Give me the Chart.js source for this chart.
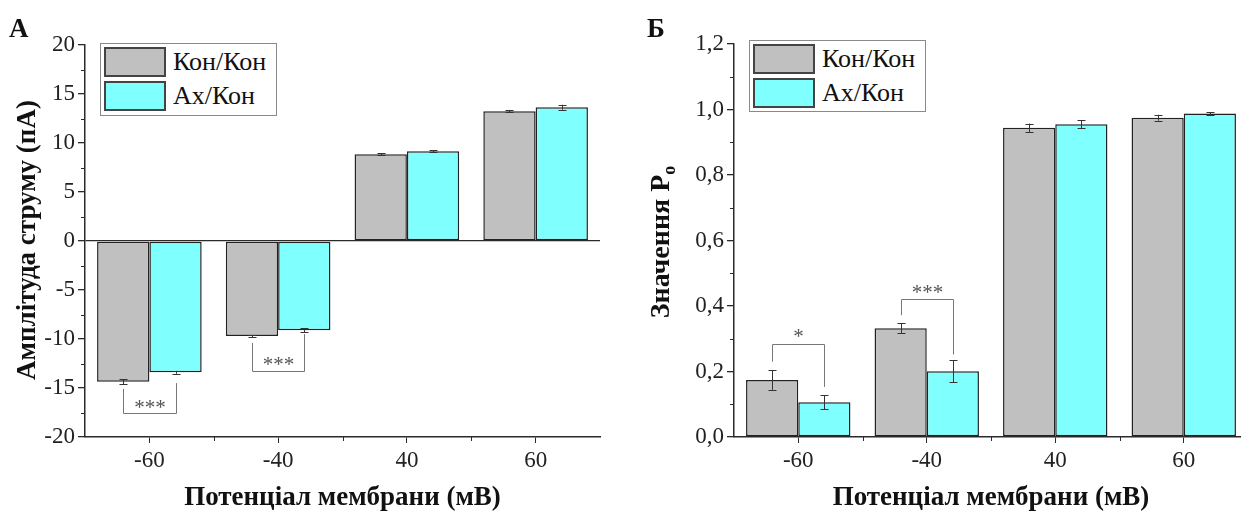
<!DOCTYPE html>
<html><head><meta charset="utf-8">
<script src="https://cdn.jsdelivr.net/npm/chart.js@4/dist/chart.umd.min.js"></script>
<style>
html,body{margin:0;padding:0;background:#fff}
#wrap{position:relative;width:1241px;height:512px;overflow:hidden;background:#fff;font-family:'Liberation Serif';color:#111}
canvas{position:absolute;top:0}
.lbl{position:absolute;font-weight:bold;white-space:nowrap;font-family:'Liberation Serif'}
.ytitle{position:absolute;font-weight:bold;white-space:nowrap;font-family:'Liberation Serif';transform:translate(-50%,-50%) rotate(-90deg)}
.leg{position:absolute;border:1px solid #8a8a8a;background:#fff;box-sizing:border-box}
.row{position:absolute;display:flex;align-items:center}
.sw{width:62px;height:30px;box-sizing:border-box;border:2px solid #444;margin-right:7px}
.row span{font-size:26px;line-height:30px;font-family:'Liberation Serif'}
</style></head>
<body><div id="wrap">
<canvas id="cA" width="620" height="512" style="left:0"></canvas>
<canvas id="cB" width="640" height="512" style="left:630px"></canvas>
<div class="lbl" style="left:9px;top:13px;font-size:27px">А</div>
<div class="lbl" style="left:647px;top:13px;font-size:27px">Б</div>
<div class="ytitle" style="left:26px;top:240px;font-size:27px">Амплітуда струму (пА)</div>
<div class="ytitle" style="left:662px;top:242px;font-size:28px">Значення P<sub style="font-size:18px">o</sub></div>
<div class="leg" id="legA" style="left:100px;top:43px;width:177px;height:73px"></div>
<div class="leg" id="legB" style="left:749px;top:40px;width:177px;height:72px"></div>
</div>
<script>
// ---- data ----
const categories = ['-60', '-40', '40', '60'];
const seriesNames = ['Кон/Кон', 'Ах/Кон'];
// Panel A: current amplitude (pA)
const ampKon = [-14.35, -9.7, 8.85, 13.25];
const ampKonErr = [0.25, 0.12, 0.08, 0.12];
const ampAx = [-13.4, -9.1, 9.15, 13.65];
const ampAxErr = [0.15, 0.2, 0.1, 0.25];
// Panel B: open probability Po
const poKon = [0.174, 0.332, 0.944, 0.975];
const poKonErr = [0.03, 0.015, 0.013, 0.009];
const poAx = [0.106, 0.201, 0.955, 0.988];
const poAxErr = [0.021, 0.033, 0.012, 0.004];
// y tick values
const ampTicks = [-20, -15, -10, -5, 0, 5, 10, 15, 20];
const poTicks = [0, 0.2, 0.4, 0.6, 0.8, 1.0, 1.2];
// significance brackets: category index, text, left arm end, right arm end, bracket level, text level
const sigA = [
  {cat: 0, text: '***', left: -15.1, right: -14.5, level: -17.55, textAt: -16.6},
  {cat: 1, text: '***', left: -10.4, right: -9.5, level: -13.27, textAt: -12.15}
];
const sigB = [
  {cat: 0, text: '*', left: 0.230, right: 0.153, level: 0.284, textAt: 0.318},
  {cat: 1, text: '***', left: 0.372, right: 0.252, level: 0.421, textAt: 0.452}
];

const colors = ['#c0c0c0', '#80ffff'];
const FONT = "'Liberation Serif'";
const AX = '#2a2a2a';

const errorBars = {
  id: 'errorBars',
  afterDatasetsDraw(chart) {
    const {ctx} = chart; const y = chart.scales.y;
    ctx.save(); ctx.strokeStyle = '#333'; ctx.lineWidth = 1;
    chart.data.datasets.forEach((ds, i) => {
      chart.getDatasetMeta(i).data.forEach((bar, j) => {
        const v = ds.data[j], e = ds.errors[j];
        const x = Math.round(bar.x) + 0.5;
        const y1 = y.getPixelForValue(v + e), y2 = y.getPixelForValue(v - e);
        ctx.beginPath();
        ctx.moveTo(x, y1); ctx.lineTo(x, y2);
        ctx.moveTo(x - 4, Math.round(y1) + 0.5); ctx.lineTo(x + 4, Math.round(y1) + 0.5);
        ctx.moveTo(x - 4, Math.round(y2) + 0.5); ctx.lineTo(x + 4, Math.round(y2) + 0.5);
        ctx.stroke();
      });
    });
    ctx.restore();
  }
};
const brackets = {
  id: 'brackets',
  afterDatasetsDraw(chart, args, opts) {
    const {ctx} = chart; const y = chart.scales.y;
    ctx.save(); ctx.strokeStyle = '#777'; ctx.lineWidth = 1;
    (opts.items || []).forEach(b => {
      const x0 = Math.round(chart.getDatasetMeta(0).data[b.cat].x) + 0.5;
      const x1 = Math.round(chart.getDatasetMeta(1).data[b.cat].x) + 0.5;
      const yl = y.getPixelForValue(b.left), yr = y.getPixelForValue(b.right);
      const yh = Math.round(y.getPixelForValue(b.level)) + 0.5;
      ctx.beginPath();
      ctx.moveTo(x0, yl); ctx.lineTo(x0, yh); ctx.lineTo(x1, yh); ctx.lineTo(x1, yr);
      ctx.stroke();
      ctx.fillStyle = '#555'; ctx.font = '21px ' + FONT;
      ctx.textAlign = 'center'; ctx.textBaseline = 'middle';
      ctx.fillText(b.text, (x0 + x1) / 2, y.getPixelForValue(b.textAt) + 5);
    });
    ctx.restore();
  }
};
const minorTicks = {
  id: 'minorTicks',
  afterDraw(chart) {
    const {ctx} = chart; const {x, y} = chart.scales;
    ctx.save(); ctx.strokeStyle = AX; ctx.lineWidth = 1;
    ctx.beginPath();
    for (let i = 0; i < y.ticks.length - 1; i++) {
      const p = Math.round(y.getPixelForValue((y.ticks[i].value + y.ticks[i + 1].value) / 2)) + 0.5;
      ctx.moveTo(x.left - 4, p); ctx.lineTo(x.left, p);
    }
    for (let i = 0; i < x.ticks.length - 1; i++) {
      const p = Math.round((x.getPixelForTick(i) + x.getPixelForTick(i + 1)) / 2) + 0.5;
      ctx.moveTo(p, y.bottom); ctx.lineTo(p, y.bottom + 4);
    }
    ctx.stroke(); ctx.restore();
  }
};

function makeChart(id, d0, e0, d1, e1, yTicks, fmt, zeroLine, sig, pad, yW) {
  return new Chart(document.getElementById(id), {
    type: 'bar',
    data: {
      labels: categories,
      datasets: [
        {label: seriesNames[0], data: d0, errors: e0, backgroundColor: colors[0], borderColor: '#222', borderWidth: 1.5, borderSkipped: false},
        {label: seriesNames[1], data: d1, errors: e1, backgroundColor: colors[1], borderColor: '#222', borderWidth: 1.5, borderSkipped: false}
      ]
    },
    options: {
      responsive: false, animation: false, devicePixelRatio: 1,
      categoryPercentage: 0.8125, barPercentage: 1,
      layout: {padding: pad},
      plugins: {legend: {display: false}, tooltip: {enabled: false}, brackets: {items: sig}},
      scales: {
        x: {
          afterFit: s => { s.height = 75; },
          grid: {display: true, drawOnChartArea: false, offset: false, tickLength: 6, tickColor: AX, color: AX},
          border: {display: true, color: AX, width: 1.5},
          ticks: {color: '#222', font: {family: FONT, size: 23}, padding: 4},
          title: {display: true, text: 'Потенціал мембрани (мВ)', color: '#111', font: {family: FONT, size: 27, weight: 'bold', lineHeight: 1}, padding: 0}
        },
        y: {
          min: yTicks[0], max: yTicks[yTicks.length - 1],
          afterFit: s => { s.width = yW; },
          afterBuildTicks: s => { s.ticks = yTicks.map(v => ({value: v})); },
          grid: {display: true, drawOnChartArea: zeroLine, drawTicks: true, tickLength: 7, tickColor: AX,
                 color: c => (c.tick && c.tick.value === 0) ? AX : 'rgba(0,0,0,0)', lineWidth: 1.3},
          border: {display: true, color: AX, width: 1.5},
          ticks: {color: '#222', font: {family: FONT, size: 23}, padding: 3, callback: fmt}
        }
      }
    },
    plugins: [errorBars, brackets, minorTicks]
  });
}

function legend(el, chart) {
  chart.data.datasets.forEach((ds, i) => {
    const r = document.createElement('div'); r.className = 'row';
    r.style.left = '3px'; r.style.top = (3 + i * 34) + 'px';
    const sw = document.createElement('div'); sw.className = 'sw'; sw.style.background = ds.backgroundColor;
    const t = document.createElement('span'); t.textContent = ds.label;
    r.appendChild(sw); r.appendChild(t); el.appendChild(r);
  });
}

function build() {
  Chart.defaults.font.family = FONT;
  const chartA = makeChart('cA', ampKon, ampKonErr, ampAx, ampAxErr, ampTicks,
    v => String(v), true, sigA, {left: 0, top: 45, right: 20, bottom: 0}, 85);
  const chartB = makeChart('cB', poKon, poKonErr, poAx, poAxErr, poTicks,
    v => v.toFixed(1).replace('.', ','), false, sigB, {left: 0, top: 44, right: 22, bottom: 0}, 104);
  legend(document.getElementById('legA'), chartA);
  legend(document.getElementById('legB'), chartB);
}
Promise.all([
  document.fonts.load("23px 'Liberation Serif'"),
  document.fonts.load("bold 27px 'Liberation Serif'")
]).then(build, build);
</script>
</body></html>
